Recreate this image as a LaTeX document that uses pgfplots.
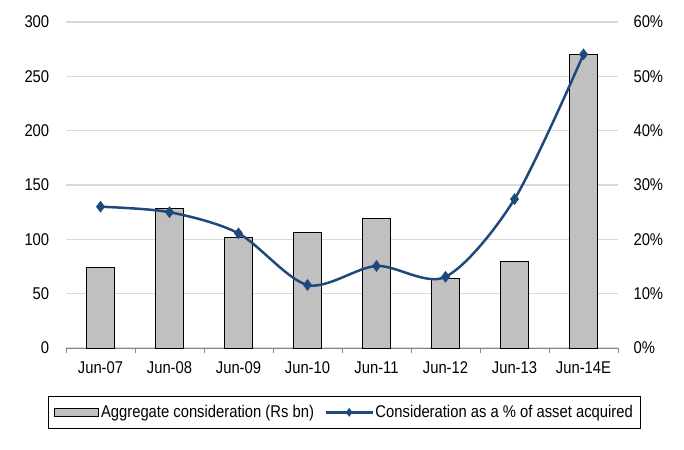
\documentclass[border=0pt]{standalone}
\usepackage{fontspec}
\setmainfont[FakeStretch=0.87]{Liberation Sans}
\usepackage{pgfplots}
\pgfplotsset{compat=1.18}
\definecolor{barfill}{RGB}{192,192,192}
\definecolor{lineblue}{RGB}{31,73,125}
\definecolor{gridgray}{RGB}{217,217,217}
\definecolor{axisgray}{RGB}{134,134,134}
\pgfplotsset{mylineleg/.style={legend image code/.code={\draw[##1, mark size=4pt, mark repeat=2, mark phase=2] plot coordinates {(0pt,0pt) (23pt,0pt) (46pt,0pt)};}}}
\begin{document}
\begin{tikzpicture}[font=\fontsize{17}{19}\selectfont]
\begin{axis}[name=main,
  width=552pt, height=326pt, scale only axis,
  /pgf/number format/assume math mode=true,
  xmin=-0.5, xmax=7.5, ymin=0, ymax=300,
  axis x line*=bottom, axis y line*=left,
  y axis line style={draw=none},
  x axis line style={axisgray, line width=1pt},
  ytick={0,50,...,300},
  ytick style={draw=none},
  yticklabel style={xshift=-9pt},
  xtick={0,...,7},
  xticklabels={Jun-07,Jun-08,Jun-09,Jun-10,Jun-11,Jun-12,Jun-13,Jun-14E},
  xticklabel style={yshift=-6pt},
  major x tick style={draw=none},
  minor xtick={-0.5,0.5,...,7.5},
  minor tick length=5pt,
  tick align=outside,
  minor x tick style={axisgray, line width=1pt},
  ymajorgrids, grid style={gridgray, line width=1.3pt},
  ybar, bar width=28pt, bar shift=0pt,
]
\addplot[fill=barfill, draw=black, line width=0.9pt] coordinates {
(0,74.3) (1,128.3) (2,101.4) (3,106.5) (4,118.9) (5,64.1) (6,79.8) (7,270.2)};
\end{axis}
\begin{axis}[
  width=552pt, height=326pt, scale only axis,
  /pgf/number format/assume math mode=true,
  xmin=-0.5, xmax=7.5, ymin=0, ymax=60,
  hide x axis,
  axis y line*=right,
  y axis line style={draw=none},
  ytick={0,10,...,60},
  ytick style={draw=none},
  yticklabel style={xshift=12pt},
  yticklabel={\pgfmathprintnumber{\tick}\%},
  legend columns=2,
  legend style={at={(0.5045,-0.147)}, anchor=north, draw=black, line width=1pt,
    inner xsep=6pt, inner ysep=7pt,
    /tikz/every even column/.append style={column sep=9pt},
    font=\fontsize{17}{19}\selectfont},
]
\addlegendimage{legend image code/.code={\draw[fill=barfill, draw=black, line width=0.9pt] (0pt,-4pt) rectangle (44pt,4pt);}}
\addlegendentry{Aggregate consideration (Rs bn)}
\addplot[smooth, tension=0.5, color=lineblue, line width=2.5pt, mark=diamond*, mark size=5.5pt,
  mark options={solid, line width=0.5pt}, mylineleg] coordinates {
(0,26.0) (1,25.0) (2,21.1) (3,11.6) (4,15.1) (5,13.1) (6,27.4) (7,54.05)};
\addlegendentry{Consideration as a \% of asset acquired}
\end{axis}
\pgfresetboundingbox
\path ([shift={(-66pt,-101pt)}]main.south west) rectangle ([shift={(66pt,22pt)}]main.north east);
\end{tikzpicture}
\end{document}
